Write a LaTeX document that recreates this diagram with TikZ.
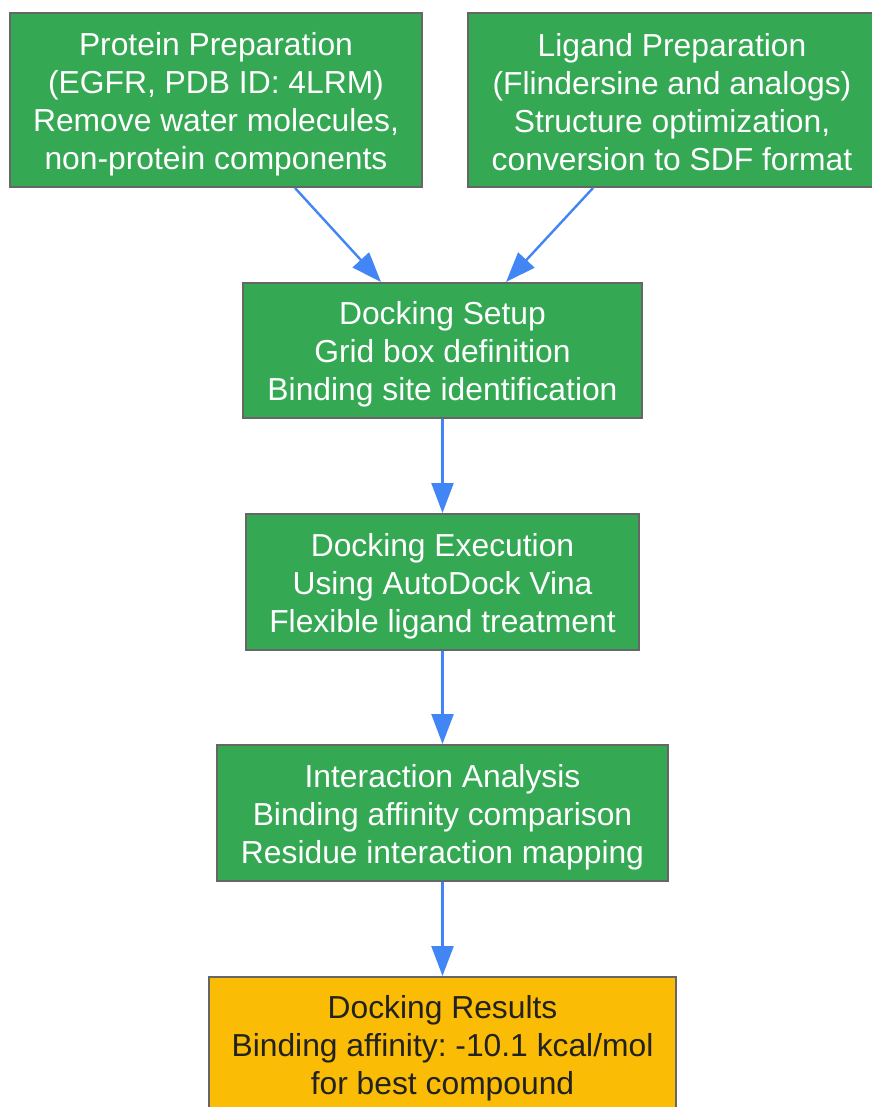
\documentclass[tikz,border=0pt]{standalone}
\usepackage{fontspec}
\setmainfont{Liberation Sans}[Ligatures=NoCommon]
\usetikzlibrary{arrows.meta}
\definecolor{gbox}{HTML}{34A853}
\definecolor{ybox}{HTML}{FBBC05}
\definecolor{bordergray}{HTML}{666666}
\definecolor{arrowblue}{HTML}{4285F4}
\definecolor{darktext}{HTML}{222222}
\frenchspacing
\tikzset{
  stepbox/.style={draw=bordergray, line width=2pt, fill=gbox, inner sep=0pt},
  resultbox/.style={stepbox, fill=ybox},
  txt/.style={text=white, align=center, inner sep=0pt, yshift=-4pt,
    font=\fontsize{31.8}{38}\selectfont\frenchspacing},
  darktxt/.style={txt, text=darktext},
  arr/.style={draw=arrowblue, line width=2.4pt,
    -{Triangle[length=30pt,width=22pt]}}
}
\begin{document}
\begin{tikzpicture}[x=1pt,y=-1pt]
\useasboundingbox (0,0) rectangle (871,1107);
\node[stepbox, minimum width=412pt, minimum height=174pt] (P) at (216,100) {};
\node[txt] (Pt) at (P.center)
  {Protein Preparation\\(EGFR, PDB ID: 4LRM)\\Remove water molecules,\\non-protein components};
\node[stepbox, minimum width=408pt, minimum height=174pt] (L) at (672,100) {};
\node[txt, yshift=2pt] (Lt) at (L.center)
  {Ligand Preparation\\(Flindersine and analogs)\\Structure optimization,\\conversion to SDF format};
\node[stepbox, minimum width=399pt, minimum height=135pt] (S) at (442.5,350.5) {};
\node[txt] (St) at (S.center)
  {Docking Setup\\Grid box definition\\Binding site identification};
\node[stepbox, minimum width=393pt, minimum height=136pt] (E) at (442.5,582) {};
\node[txt] (Et) at (E.center)
  {Docking Execution\\Using AutoDock Vina\\Flexible ligand treatment};
\node[stepbox, minimum width=451pt, minimum height=136pt] (I) at (442.5,813) {};
\node[txt] (It) at (I.center)
  {Interaction Analysis\\Binding affinity comparison\\Residue interaction mapping};
\node[resultbox, minimum width=467pt, minimum height=136pt] (R) at (442.5,1045) {};
\node[darktxt, yshift=1pt] (Rt) at (R.center)
  {Docking Results\\Binding affinity: -10.1 kcal/mol\\for best compound};
\draw[arr] ([xshift=79pt]P.south) -- ([xshift=-61.5pt]S.north);
\draw[arr] ([xshift=-79pt]L.south) -- ([xshift=63.5pt]S.north);
\draw[arr] (S.south) -- (E.north);
\draw[arr] (E.south) -- (I.north);
\draw[arr] (I.south) -- (R.north);
\end{tikzpicture}
\end{document}
